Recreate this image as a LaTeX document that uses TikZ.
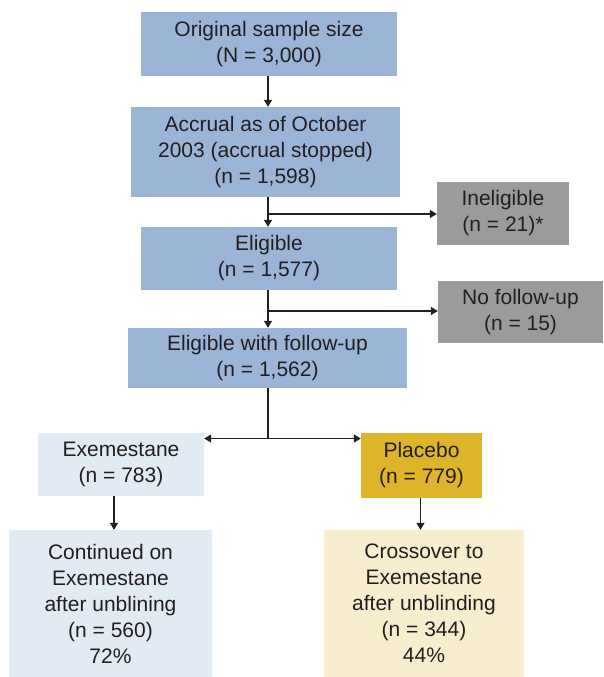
\documentclass[tikz,border=0pt]{standalone}
\usepackage{fontspec}
\setmainfont{Liberation Sans}
\usetikzlibrary{arrows.meta}
\definecolor{txt}{HTML}{231F20}
\definecolor{bluebox}{HTML}{9BB5D6}
\definecolor{greybox}{HTML}{9B9B9B}
\definecolor{lightblue}{HTML}{E2EAF3}
\definecolor{gold}{HTML}{DDB42A}
\definecolor{lightgold}{HTML}{F8EDCC}
\begin{document}
\begin{tikzpicture}[x=1pt,y=-1pt,
  box/.style={draw=none, inner sep=0pt, align=center, text=txt,
    font=\fontsize{21}{26}\selectfont},
  conn/.style={draw=txt, line width=1.3pt, -{Triangle[length=7pt,width=8pt]}},
  plainline/.style={draw=txt, line width=1.3pt}]
\useasboundingbox (0,0) rectangle (603,677);
\node[box, fill=bluebox, minimum width=256pt, minimum height=64pt] (b1) at (269,44) {Original sample size\\(N = 3,000)};
\node[box, fill=bluebox, minimum width=269pt, minimum height=90pt] (b2) at (265.5,152) {Accrual as of October\\2003 (accrual stopped)\\(n = 1,598)};
\node[box, fill=greybox, minimum width=132pt, minimum height=63pt] (inel) at (503,213.5) {Ineligible\\(n = 21)*};
\node[box, fill=bluebox, minimum width=256pt, minimum height=63pt] (b3) at (269,258.5) {Eligible\\(n = 1,577)};
\node[box, fill=greybox, minimum width=165pt, minimum height=62pt] (nofu) at (520.5,312) {No follow-up\\(n = 15)};
\node[box, fill=bluebox, minimum width=279pt, minimum height=60pt] (b4) at (267.5,358) {Eligible with follow-up\\(n = 1,562)};
\node[box, fill=lightblue, minimum width=166pt, minimum height=63pt] (exe) at (121,464.5) {Exemestane\\(n = 783)};
\node[box, fill=gold, minimum width=121pt, minimum height=65pt] (plac) at (421.5,465.5) {Placebo\\(n = 779)};
\node[box, fill=lightblue, minimum width=203pt, minimum height=147pt] (cont) at (110.5,603.5) {Continued on\\Exemestane\\after unblining\\(n = 560)\\72\%};
\node[box, fill=lightgold, minimum width=200pt, minimum height=147pt] (cross) at (424,603.5) {Crossover to\\Exemestane\\after unblinding\\(n = 344)\\44\%};
\coordinate (j1) at (268,214);
\coordinate (j2) at (268,311);
\coordinate (j3) at (268,438.5);
\draw[conn] (b1.south -| j1) -- (b2.north -| j1);
\draw[conn] (b2.south -| j1) -- (b3.north -| j1);
\draw[conn] (j1) -- (inel.west |- j1);
\draw[conn] (b3.south -| j2) -- (b4.north -| j2);
\draw[conn] (j2) -- (nofu.west |- j2);
\draw[plainline] (b4.south -| j3) -- (j3);
\draw[conn] (j3) -- (exe.east |- j3);
\draw[conn] (j3) -- (plac.west |- j3);
\draw[conn] ([xshift=-7pt]exe.south) -- ([xshift=-7pt]exe.south |- cont.north);
\draw[conn] ([xshift=-1pt]plac.south) -- ([xshift=-1pt]plac.south |- cross.north);
\end{tikzpicture}
\end{document}
